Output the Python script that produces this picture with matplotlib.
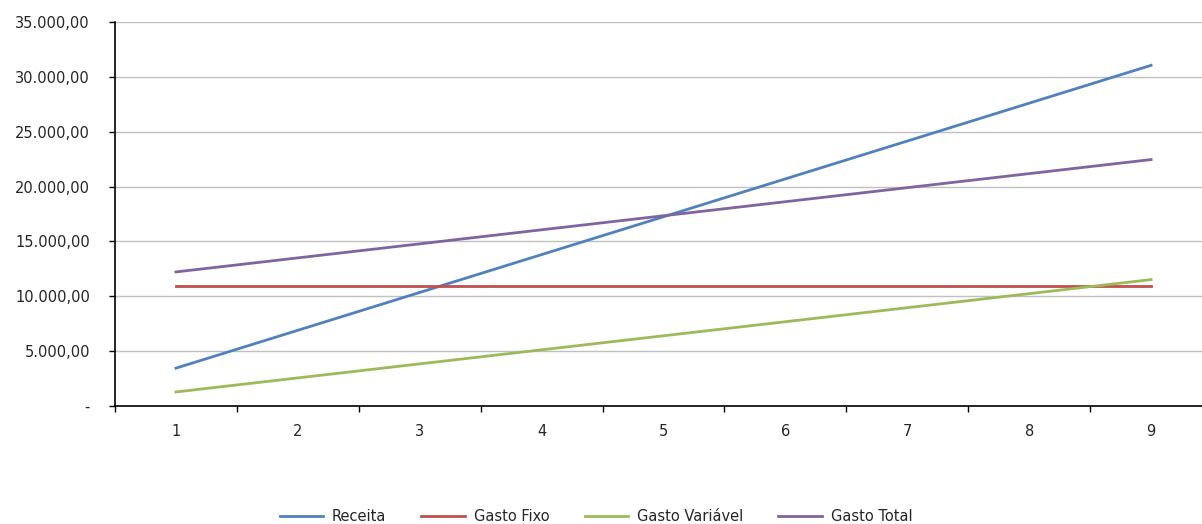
import matplotlib.pyplot as plt
from matplotlib.ticker import FuncFormatter, MultipleLocator

plt.rcParams['font.family'] = ['DejaVu Sans']

quantidade = [1, 2, 3, 4, 5, 6, 7, 8, 9]
receita = [3450, 6900, 10350, 13800, 17250, 20700, 24150, 27600, 31050]
gasto_fixo = [10940, 10940, 10940, 10940, 10940, 10940, 10940, 10940, 10940]
gasto_variavel = [1280, 2560, 3840, 5120, 6400, 7680, 8960, 10240, 11520]
gasto_total = [f + v for f, v in zip(gasto_fixo, gasto_variavel)]

cores = {
    'Receita': '#4F81BD',
    'Gasto Fixo': '#C0504D',
    'Gasto Variável': '#9BBB59',
    'Gasto Total': '#8064A2',
}


def moeda_br(v, pos):
    if abs(v) < 1e-9:
        return '-'
    s = f'{v:,.2f}'
    return s.replace(',', 'X').replace('.', ',').replace('X', '.')


fig = plt.figure(figsize=(12.02, 5.24), dpi=100)
ax = fig.add_axes([115 / 1202, 1 - 406 / 524, 1097 / 1202, 384 / 524])

ax.plot(quantidade, receita, color=cores['Receita'], lw=2.0, label='Receita')
ax.plot(quantidade, gasto_fixo, color=cores['Gasto Fixo'], lw=2.0, label='Gasto Fixo')
ax.plot(quantidade, gasto_variavel, color=cores['Gasto Variável'], lw=2.0, label='Gasto Variável')
ax.plot(quantidade, gasto_total, color=cores['Gasto Total'], lw=2.0, label='Gasto Total')

ax.set_xlim(0.5, 9.5)
ax.set_ylim(0, 35000)
ax.yaxis.set_major_locator(MultipleLocator(5000))
ax.yaxis.set_major_formatter(FuncFormatter(moeda_br))
ax.grid(axis='y', color='#C0C0C0', lw=1)
ax.set_axisbelow(True)

# category boundaries get the tick marks, labels sit in the middle
ax.set_xticks([x + 0.5 for x in range(0, 10)])
ax.set_xticklabels([])
ax.set_xticks(quantidade, minor=True)
ax.set_xticklabels([str(q) for q in quantidade], minor=True)
ax.tick_params(axis='x', which='major', direction='out', length=4, width=1, color='black')
ax.tick_params(axis='x', which='minor', length=0, pad=13, labelsize=10.5, labelcolor='#262626')
ax.tick_params(axis='y', direction='out', length=4, width=1, pad=14, labelsize=10.5, labelcolor='#262626')

for s in ['top', 'right']:
    ax.spines[s].set_visible(False)
for s in ['left', 'bottom']:
    ax.spines[s].set_color('black')
    ax.spines[s].set_linewidth(1.2)

fig.legend(loc='lower center', bbox_to_anchor=(596 / 1202, -0.025), ncol=4, frameon=False,
           fontsize=10.5, handlelength=3.0, columnspacing=2.4, handletextpad=0.6,
           labelcolor='#262626')

fig.savefig('out.png', dpi=100)
